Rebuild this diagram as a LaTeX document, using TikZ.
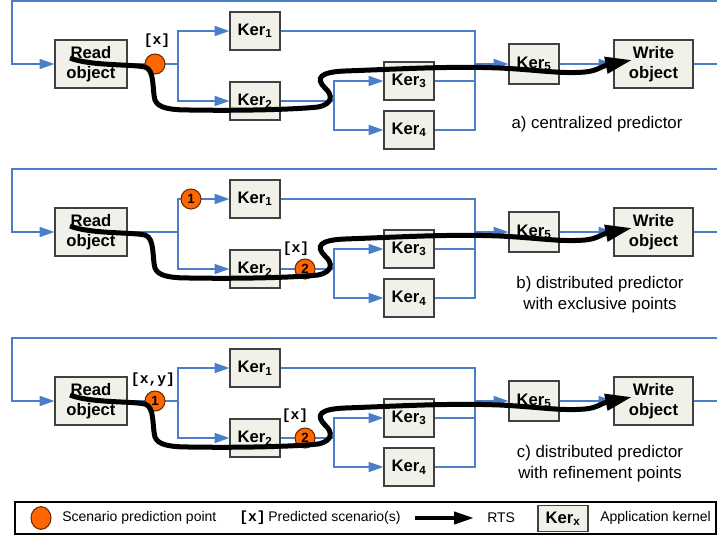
\documentclass[tikz,border=0pt]{standalone}
\usepackage{fontspec}
\setmainfont{Liberation Sans}
\setmonofont{Liberation Mono}
\usetikzlibrary{arrows.meta,shapes.geometric}

\definecolor{bleu}{HTML}{4A7EC8}
\definecolor{fond}{HTML}{F1F1E9}
\definecolor{gris}{HTML}{404040}
\definecolor{orangep}{HTML}{FF6600}
\definecolor{brun}{HTML}{6B2A00}

\begin{document}
\begin{tikzpicture}[x=0.75pt,y=-0.75pt,
	boite/.style={draw=gris,fill=fond,line width=0.9pt,inner sep=0pt,align=center,font=\bfseries\fontsize{12.5}{15}\selectfont},
	ker/.style={boite,minimum width=37.5pt,minimum height=28.5pt},
	objet/.style={boite,minimum width=54pt,minimum height=36pt},
	lien/.style={draw=bleu,line width=1.1pt},
	fleche/.style={lien,-{Triangle[length=11pt,width=7.5pt]}},
	pt/.style={circle,draw=brun,fill=orangep,line width=0.8pt,minimum size=15pt,inner sep=0pt,font=\bfseries\fontsize{10}{10}\selectfont},
	rts/.style={line width=3.75pt,-{Triangle[length=20pt,width=12pt]}},
	scen/.style={inner sep=0pt,font=\ttfamily\bfseries\fontsize{11}{11}\selectfont},
	txt/.style={inner sep=0pt,align=center,font=\fontsize{12.6}{15.75}\selectfont},
	leg/.style={inner sep=0pt,anchor=west,font=\fontsize{10.5}{12}\selectfont}]
	\useasboundingbox (0,0) rectangle (717,540);
	% les trois graphes de noyaux
	\foreach \p/\dy in {a/0,b/168,c/337}{
	\begin{scope}[shift={(0,\dy)}]
		\node[objet] (lire\p) at (91,64) {Read\\object};
		\node[ker] (k1\p) at (255,31) {Ker\textsubscript{1}};
		\node[ker] (k2\p) at (255,101) {Ker\textsubscript{2}};
		\node[ker] (k3\p) at (409,81) {Ker\textsubscript{3}};
		\node[ker] (k4\p) at (409,130) {Ker\textsubscript{4}};
		\node[ker,minimum height=30pt] (k5\p) at (534,64) {Ker\textsubscript{5}};
		\node[objet,minimum width=59.25pt] (ecrire\p) at (653.5,64) {Write\\object};
		\coordinate (retour\p) at (717,1);
		\coordinate (sortie\p) at (717,64);
		\coordinate (f1\p) at (178,64);
		\coordinate (f2\p) at (334,101);
		\coordinate (j\p) at (475,64);
		\draw[fleche] (retour\p) -| (12,64) -- (lire\p); % boucle de retour
		\draw[lien] (lire\p) -- (f1\p);
		\draw[fleche] (f1\p) |- (k1\p);
		\draw[fleche] (f1\p) |- (k2\p);
		\draw[lien] (k2\p) -- (f2\p);
		\draw[fleche] (f2\p) |- (k3\p);
		\draw[fleche] (f2\p) |- (k4\p);
		\draw[lien] (k1\p) -| (j\p);
		\draw[lien] (k3\p) -| (j\p);
		\draw[lien] (k4\p) -| (j\p);
		\draw[fleche] (j\p) -- (k5\p);
		\draw[fleche] (k5\p) -- (ecrire\p);
		\draw[lien] (ecrire\p) -- (sortie\p);
	\end{scope}}
	% points de prediction
	\node[pt] (pa) at (155,64) {};
	\node[scen] (sa) at (157,41) {[x]};
	\node[pt] (pb1) at (191,199) {1};
	\node[pt] (pb2) at (305,269) {2};
	\node[scen] (sb) at (296,249) {[x]};
	\node[pt] (pc1) at (155,401) {1};
	\node[scen] (sc1) at (153,380) {[x,y]};
	\node[pt] (pc2) at (305,438) {2};
	\node[scen] (sc2) at (295,416) {[x]};
	% chemins RTS
	\foreach \dy in {0,168,337}{
	\draw[rts,shift={(0,\dy)}] (70,58) .. controls (90,66) and (130,64) .. (145,67)
		.. controls (155,70) and (152,90) .. (155,100)
		.. controls (158,108) and (170,110) .. (190,110)
		.. controls (250,111) and (300,109) .. (318,107)
		.. controls (333,104) and (333,95) .. (325,88)
		.. controls (315,78) and (320,72) .. (345,71)
		.. controls (400,69) and (450,66) .. (500,68)
		.. controls (540,70) and (560,74) .. (585,72)
		.. controls (597,71) and (602,66) .. (632,60);}
	% legendes
	\node[txt] (ta) at (597,124) {a) centralized predictor};
	\node[txt] (tb) at (600,294.5) {b) distributed predictor\\with exclusive points};
	\node[txt] (tc) at (600,464) {c) distributed predictor\\with refinement points};
	% cartouche
	\draw[line width=0.9pt] (15,502) rectangle (716,534);
	\node[pt,ellipse,minimum width=15pt,minimum height=17pt] (lp) at (41,518) {};
	\node[leg] (l1) at (62,518) {Scenario prediction point};
	\node[scen,anchor=west] (l2) at (239,518) {[x]};
	\node[leg] (l3) at (268,518) {Predicted scenario(s)};
	\draw[line width=3pt,-{Triangle[length=15pt,width=9pt]}] (415,518) -- (474,518);
	\node[leg] (l4) at (487,518) {RTS};
	\node[ker,minimum height=20pt] (kx) at (563,518.5) {Ker\textsubscript{x}};
	\node[leg] (l5) at (600,518) {Application kernel};
\end{tikzpicture}
\end{document}
